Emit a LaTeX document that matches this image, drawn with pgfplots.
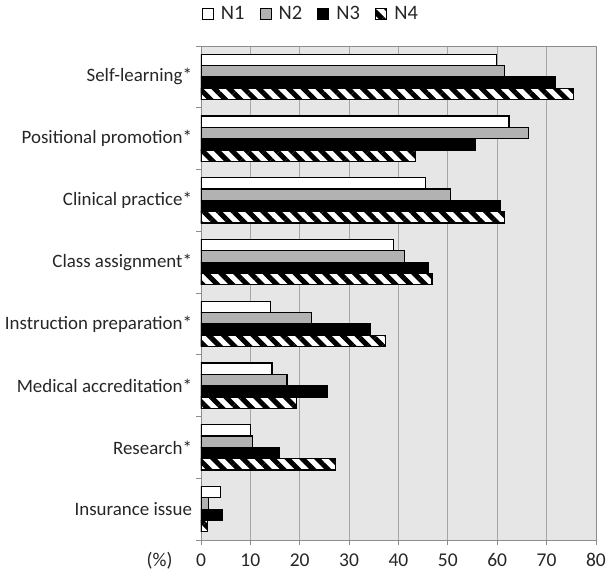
\documentclass[border=0pt]{standalone}
\usepackage{pgfplots}
\pgfplotsset{compat=1.18}
\usepackage{fontspec}
\setmainfont{Carlito}
\usetikzlibrary{patterns.meta}
\definecolor{bgc}{HTML}{E6E6E6}
\definecolor{gridc}{HTML}{A6A6A6}
\definecolor{axc}{HTML}{8C8C8C}
\definecolor{n2c}{HTML}{B2B2B2}
\begin{document}
\begin{tikzpicture}
\begin{axis}[
  scale only axis,
  width=395bp, height=494bp,
  xbar=0pt, bar width=11.3bp,
  xmin=0, xmax=80, xtick={0,10,...,80},
  ymin=-0.5, ymax=7.5,
  ytick={0,...,7},
  yticklabels={Insurance issue,Research*,Medical accreditation*,Instruction preparation*,Class assignment*,Clinical practice*,Positional promotion*,Self-learning*},
  minor ytick={-0.5,0.5,...,7.5},
  major tick length=5bp,
  minor tick length=5bp,
  tick style={axc, line width=0.8pt},
  major y tick style={draw=none},
  xtick pos=bottom, ytick pos=left,
  tick align=outside,
  xmajorgrids, major grid style={gridc, line width=0.8pt},
  axis background/.style={fill=bgc},
  axis line style={axc, line width=0.8pt},
  /pgf/number format/assume math mode=true,
  ticklabel style={font=\fontsize{19.5bp}{23bp}\selectfont, text=black!85},
  yticklabel style={xshift=-0.5bp, font=\fontsize{18.9bp}{23bp}\selectfont},
  xticklabel style={yshift=-5bp},
  xlabel={(\%)},
  xlabel style={at={(axis description cs:0,0)}, anchor=east, xshift=-25bp, yshift=-21bp, font=\fontsize{19.5bp}{23bp}\selectfont, text=black!85},
  legend columns=4,
  legend style={at={(axis description cs:0.278,1)}, anchor=center, yshift=32bp, draw=none, fill=none, font=\fontsize{20.5bp}{24bp}\selectfont, text=black!85, /tikz/every even column/.append style={column sep=13bp}, /tikz/every odd column/.append style={column sep=5bp}, inner xsep=0pt},
  legend image code/.code={\draw[#1, line width=1.2pt] (0bp,-5.5bp) rectangle (11bp,5.5bp);},
]
\addplot[draw=black, line width=1.2pt, fill=white, bar shift=16.95bp] coordinates {(4.0,0) (10.1,1) (14.4,2) (14.1,3) (39.0,4) (45.4,5) (62.4,6) (59.9,7)};
\addplot[draw=black, line width=1.2pt, fill=n2c, bar shift=5.65bp] coordinates {(1.6,0) (10.5,1) (17.4,2) (22.3,3) (41.2,4) (50.5,5) (66.4,6) (61.5,7)};
\addplot[draw=black, line width=1.2pt, fill=black, bar shift=-5.65bp] coordinates {(4.3,0) (15.9,1) (25.7,2) (34.3,3) (46.1,4) (60.6,5) (55.5,6) (71.8,7)};
\addplot[draw=black, line width=1.2pt, preaction={fill=white}, pattern={Lines[angle=-45, distance=10.5bp, line width=5bp]}, bar shift=-16.95bp] coordinates {(1.3,0) (27.3,1) (19.3,2) (37.3,3) (46.8,4) (61.4,5) (43.4,6) (75.5,7)};
\legend{N1,N2,N3,N4}
\end{axis}
\pgfresetboundingbox
\path[use as bounding box] (current axis.south west) ++(-201bp,-32bp) rectangle ++(608bp,572bp);
\end{tikzpicture}
\end{document}
